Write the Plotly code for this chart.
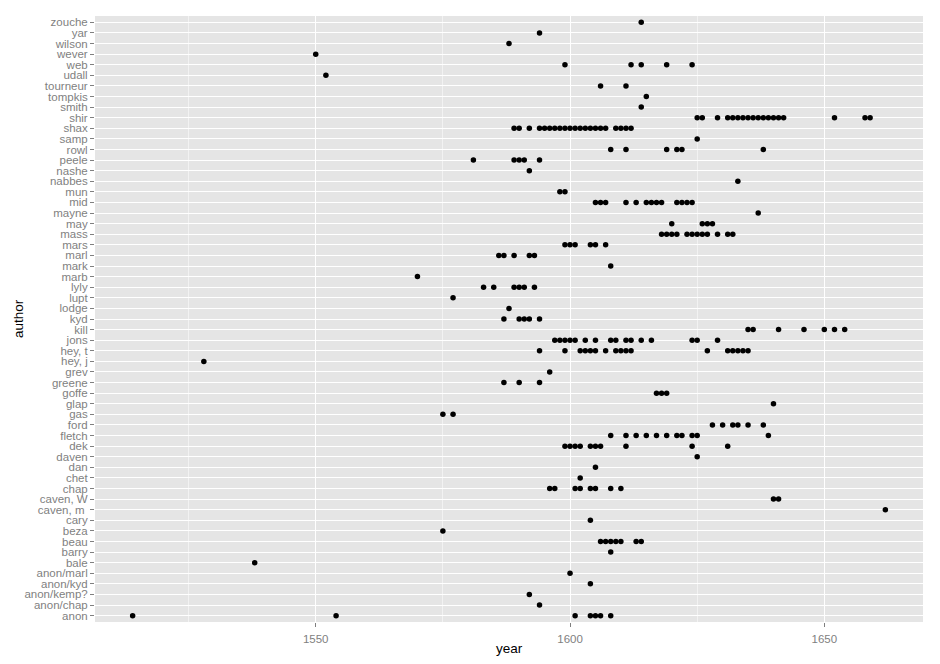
import plotly.graph_objects as go

# Author categories (bottom to top) and the years of each author's works
authors = ["anon", "anon/chap", "anon/kemp?", "anon/kyd", "anon/marl", "bale", "barry", "beau",
           "beza", "cary", "caven, m ", "caven, W", "chap", "chet", "dan", "daven", "dek",
           "fletch", "ford", "gas", "glap", "goffe", "greene", "grev", "hey, j", "hey, t",
           "jons", "kill", "kyd", "lodge", "lupt", "lyly", "marb", "mark", "marl", "mars",
           "mass", "may", "mayne", "mid", "mun", "nabbes", "nashe", "peele", "rowl", "samp",
           "shax", "shir", "smith", "tompkis", "tourneur", "udall", "web", "wever", "wilson",
           "yar", "zouche"]

years = [
    [1514, 1554, 1601, 1604, 1605, 1606, 1608],                      # anon
    [1594],                                                          # anon/chap
    [1592],                                                          # anon/kemp?
    [1604],                                                          # anon/kyd
    [1600],                                                          # anon/marl
    [1538],                                                          # bale
    [1608],                                                          # barry
    [1606, 1607, 1608, 1609, 1610, 1613, 1614],                      # beau
    [1575],                                                          # beza
    [1604],                                                          # cary
    [1662],                                                          # caven, m
    [1640, 1641],                                                    # caven, W
    [1596, 1597, 1601, 1602, 1604, 1605, 1608, 1610],                # chap
    [1602],                                                          # chet
    [1605],                                                          # dan
    [1625],                                                          # daven
    [1599, 1600, 1601, 1602, 1604, 1605, 1606, 1611, 1624, 1631],    # dek
    [1608, 1611, 1613, 1615, 1617, 1619, 1621, 1622, 1624, 1625, 1639],  # fletch
    [1628, 1630, 1632, 1633, 1635, 1638],                            # ford
    [1575, 1577],                                                    # gas
    [1640],                                                          # glap
    [1617, 1618, 1619],                                              # goffe
    [1587, 1590, 1594],                                              # greene
    [1596],                                                          # grev
    [1528],                                                          # hey, j
    [1594, 1599, 1602, 1603, 1604, 1605, 1607, 1609, 1610, 1611, 1612,
     1627, 1631, 1632, 1633, 1634, 1635],                            # hey, t
    [1597, 1598, 1599, 1600, 1601, 1603, 1605, 1608, 1609, 1611, 1612,
     1614, 1616, 1624, 1625, 1629],                                  # jons
    [1635, 1636, 1641, 1646, 1650, 1652, 1654],                      # kill
    [1587, 1590, 1591, 1592, 1594],                                  # kyd
    [1588],                                                          # lodge
    [1577],                                                          # lupt
    [1583, 1585, 1589, 1590, 1591, 1593],                            # lyly
    [1570],                                                          # marb
    [1608],                                                          # mark
    [1586, 1587, 1589, 1592, 1593],                                  # marl
    [1599, 1600, 1601, 1604, 1605, 1607],                            # mars
    [1618, 1619, 1620, 1621, 1623, 1624, 1625, 1626, 1627, 1629, 1631, 1632],  # mass
    [1620, 1626, 1627, 1628],                                        # may
    [1637],                                                          # mayne
    [1605, 1606, 1607, 1611, 1613, 1615, 1616, 1617, 1618, 1621, 1622, 1623, 1624],  # mid
    [1598, 1599],                                                    # mun
    [1633],                                                          # nabbes
    [1592],                                                          # nashe
    [1581, 1589, 1590, 1591, 1594],                                  # peele
    [1608, 1611, 1619, 1621, 1622, 1638],                            # rowl
    [1625],                                                          # samp
    [1589, 1590, 1592, 1594, 1595, 1596, 1597, 1598, 1599, 1600, 1601, 1602,
     1603, 1604, 1605, 1606, 1607, 1609, 1610, 1611, 1612],          # shax
    [1625, 1626, 1629, 1631, 1632, 1633, 1634, 1635, 1636, 1637, 1638, 1639,
     1640, 1641, 1642, 1652, 1658, 1659],                            # shir
    [1614],                                                          # smith
    [1615],                                                          # tompkis
    [1606, 1611],                                                    # tourneur
    [1552],                                                          # udall
    [1599, 1612, 1614, 1619, 1624],                                  # web
    [1550],                                                          # wever
    [1588],                                                          # wilson
    [1594],                                                          # yar
    [1614],                                                          # zouche
]

x_ticks = [1550, 1600, 1650]
x_minor = [1525, 1575, 1625]

xs, ys = [], []
for a, yrs in zip(authors, years):
    for y in yrs:
        xs.append(y)
        ys.append(a)

fig = go.Figure()
fig.add_trace(go.Scatter(x=xs, y=ys, mode="markers",
                         marker=dict(color="black", size=5.5, line=dict(width=0)),
                         showlegend=False))

allx = [v for yrs in years for v in yrs]
lo, hi = min(allx), max(allx)
pad = (hi - lo) * 0.05

tick_grey = "#7F7F7F"
# the page body adds an 8px offset, so the figure is 8px smaller than the window
fig.update_layout(
    width=932, height=656,
    margin=dict(l=87, r=17, t=8, b=42, autoexpand=False),
    paper_bgcolor="white", plot_bgcolor="#E5E5E5",
    font=dict(family="Liberation Sans, Arial, sans-serif", size=11.5, color=tick_grey),
    xaxis=dict(range=[lo - pad, hi + pad], tickmode="array", tickvals=x_ticks,
               ticks="outside", ticklen=4, tickcolor=tick_grey, tickwidth=1,
               ticklabelstandoff=2,
               showgrid=True, gridcolor="white", gridwidth=1.3,
               zeroline=False, showline=False, tickfont=dict(size=11.5, color=tick_grey),
               minor=dict(tickvals=x_minor, showgrid=True, gridcolor="#F2F2F2",
                          gridwidth=0.7, ticks="")),
    yaxis=dict(type="category", categoryorder="array", categoryarray=authors,
               tickmode="array", tickvals=authors, ticktext=authors,
               range=[-0.6, len(authors) - 1 + 0.6], ticks="outside", ticklen=4,
               tickcolor=tick_grey, tickwidth=1, showgrid=True, gridcolor="white",
               gridwidth=1.1, zeroline=False, showline=False,
               tickfont=dict(size=11.5, color=tick_grey)),
    annotations=[
        dict(text="year", x=0.5, y=0, xref="paper", yref="paper", showarrow=False,
             font=dict(size=13.5, color="black"), yanchor="middle", xanchor="center",
             yshift=-26),
        dict(text="author", x=0, y=0.5, xref="paper", yref="paper", showarrow=False,
             font=dict(size=13.5, color="black"), textangle=-90, xanchor="center",
             xshift=-77),
    ],
)

fig.write_html("out.html")
